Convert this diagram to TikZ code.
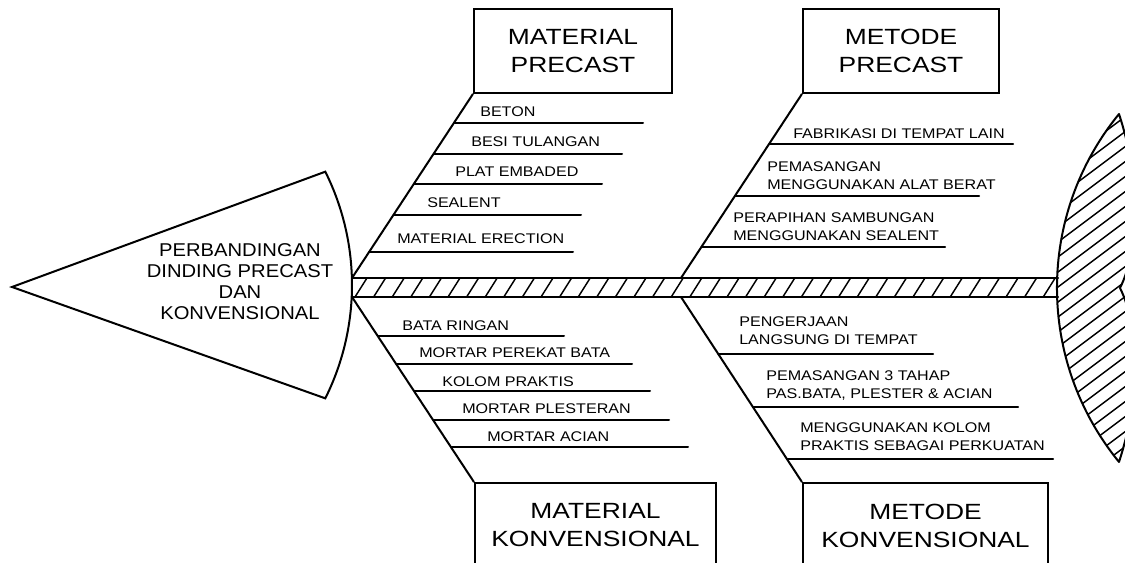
\documentclass[tikz,border=0pt]{standalone}
\usepackage{fontspec}
\setmainfont{Liberation Sans}
\newfontfamily\subf[FakeStretch=1.15]{Liberation Sans}
\newfontfamily\boxf[FakeStretch=1.2]{Liberation Sans}
\newfontfamily\headf[FakeStretch=1.09]{Liberation Sans}
\begin{document}
\begin{tikzpicture}[x=0.75pt,y=0.75pt,
  ln/.style={line width=1.5pt, line cap=round},
  hatch/.style={line width=1.1pt},
  boxst/.style={draw, line width=1.8pt, align=center, inner sep=0pt, font=\boxf\fontsize{16.5}{21}\selectfont},
  subtxt/.style={anchor=base west, inner sep=0pt, font=\subf\fontsize{10.5}{13.5}\selectfont},
  headst/.style={align=center, inner sep=0pt, font=\headf\fontsize{13.9}{15.75}\selectfont}]
\useasboundingbox (0,0) rectangle (1125,563);
\fill[white] (0,0) rectangle (1125,563);
\clip (0,0) rectangle (1125,563);

% ---- head
\draw[ln, fill=white] (12,276) -- (325.3,391.3) arc[start angle=26.5, end angle=-26.5, radius=254] -- cycle;
\node[headst] (head) at (240,281.5) {PERBANDINGAN\\DINDING PRECAST\\DAN\\KONVENSIONAL};

% ---- spine
\coordinate (s1t) at (352,285);
\coordinate (s2t) at (681,285);
\coordinate (s1b) at (352,266);
\coordinate (s2b) at (681,266);
\coordinate (sEt) at (1058,285);
\coordinate (sEb) at (1058,266);
\begin{scope}
  \clip (s1b) rectangle (sEt);
  \foreach \i in {-1,0,...,39} \draw[hatch] ({355+18.6*\i},266) -- ++(12,19);
\end{scope}
\draw[ln] (s1t) -- (sEt);
\draw[ln] (s1b) -- (sEb);

% ---- tail
\begin{scope}
  \clip (1119,449) arc[start angle=140.75, end angle=219.25, radius=275]
     .. controls (1140,165) and (1140,235) .. (1120,275)
     .. controls (1140,315) and (1140,385) .. (1119,449) -- cycle;
  \foreach \k in {0,...,28} \draw[hatch] (1030,{30+15*\k}) -- ++(110,82.5);
\end{scope}
\draw[ln, line join=round] (1119,449) arc[start angle=140.75, end angle=219.25, radius=275]
     .. controls (1140,165) and (1140,235) .. (1120,275)
     .. controls (1140,315) and (1140,385) .. (1119,449) -- cycle;

% ---- boxes
\node[boxst, minimum width=148.5pt, minimum height=63pt] (mp) at (573,512) {MATERIAL\\PRECAST};
\node[boxst, minimum width=147pt, minimum height=63pt] (mep) at (901,512) {METODE\\PRECAST};
\node[boxst, minimum width=180.75pt, minimum height=63.75pt] (mk) at (595.5,37.5) {MATERIAL\\KONVENSIONAL};
\node[boxst, minimum width=183.75pt, minimum height=63.75pt] (mek) at (925.5,37.5) {METODE\\KONVENSIONAL};

% ---- main branches
\draw[ln] (s1t) -- (mp.south west);
\draw[ln] (s2t) -- (mep.south west);
\draw[ln] (s1b) -- (mk.north west);
\draw[ln] (s2b) -- (mek.north west);

% ---- material precast
\coordinate (a1) at (454.2,440); \coordinate (a2) at (643,440);
\coordinate (b1) at (433.8,409); \coordinate (b2) at (622,409);
\coordinate (c1) at (414,379);   \coordinate (c2) at (602,379);
\coordinate (d1) at (393.5,348); \coordinate (d2) at (581,348);
\coordinate (e1) at (369.1,311); \coordinate (e2) at (573,311);
\draw[ln] (a1) -- (a2); \draw[ln] (b1) -- (b2); \draw[ln] (c1) -- (c2);
\draw[ln] (d1) -- (d2); \draw[ln] (e1) -- (e2);
\node[subtxt] (ta) at (480,446) {BETON};
\node[subtxt] (tb) at (471,416) {BESI TULANGAN};
\node[subtxt] (tc) at (455,386) {PLAT EMBADED};
\node[subtxt] (td) at (427,355) {SEALENT};
\node[subtxt] (te) at (397,319) {MATERIAL ERECTION};

% ---- metode precast
\coordinate (f1) at (769.4,419); \coordinate (f2) at (1013,419);
\coordinate (g1) at (735.1,367); \coordinate (g2) at (979,367);
\coordinate (h1) at (701.4,316); \coordinate (h2) at (945,316);
\draw[ln] (f1) -- (f2); \draw[ln] (g1) -- (g2); \draw[ln] (h1) -- (h2);
\node[subtxt] (tf) at (793,424) {FABRIKASI DI TEMPAT LAIN};
\node[subtxt] (tg) at (767,391) {\begin{tabular}[t]{@{}l@{}}PEMASANGAN\\MENGGUNAKAN ALAT BERAT\end{tabular}};
\node[subtxt] (th) at (733,340) {\begin{tabular}[t]{@{}l@{}}PERAPIHAN SAMBUNGAN\\MENGGUNAKAN SEALENT\end{tabular}};

% ---- material konvensional
\coordinate (i1) at (377.8,227); \coordinate (i2) at (564,227);
\coordinate (j1) at (396.3,199); \coordinate (j2) at (632,199);
\coordinate (k1) at (414.2,172); \coordinate (k2) at (650,172);
\coordinate (l1) at (433.3,143); \coordinate (l2) at (669,143);
\coordinate (m1) at (451.2,116); \coordinate (m2) at (688,116);
\draw[ln] (i1) -- (i2); \draw[ln] (j1) -- (j2); \draw[ln] (k1) -- (k2);
\draw[ln] (l1) -- (l2); \draw[ln] (m1) -- (m2);
\node[subtxt] (ti) at (402,232) {BATA RINGAN};
\node[subtxt] (tj) at (419,205) {MORTAR PEREKAT BATA};
\node[subtxt] (tk) at (442,176) {KOLOM PRAKTIS};
\node[subtxt] (tl) at (462,149) {MORTAR PLESTERAN};
\node[subtxt] (tm) at (487,121) {MORTAR ACIAN};

% ---- metode konvensional
\coordinate (n1) at (718.4,209); \coordinate (n2) at (933,209);
\coordinate (o1) at (753.2,156); \coordinate (o2) at (1018,156);
\coordinate (p1) at (787.3,104); \coordinate (p2) at (1053,104);
\draw[ln] (n1) -- (n2); \draw[ln] (o1) -- (o2); \draw[ln] (p1) -- (p2);
\node[subtxt] (tn) at (739,236) {\begin{tabular}[t]{@{}l@{}}PENGERJAAN\\LANGSUNG DI TEMPAT\end{tabular}};
\node[subtxt] (to) at (766,182) {\begin{tabular}[t]{@{}l@{}}PEMASANGAN 3 TAHAP\\PAS.BATA, PLESTER \& ACIAN\end{tabular}};
\node[subtxt] (tp) at (800,130) {\begin{tabular}[t]{@{}l@{}}MENGGUNAKAN KOLOM\\PRAKTIS SEBAGAI PERKUATAN\end{tabular}};
\end{tikzpicture}
\end{document}
